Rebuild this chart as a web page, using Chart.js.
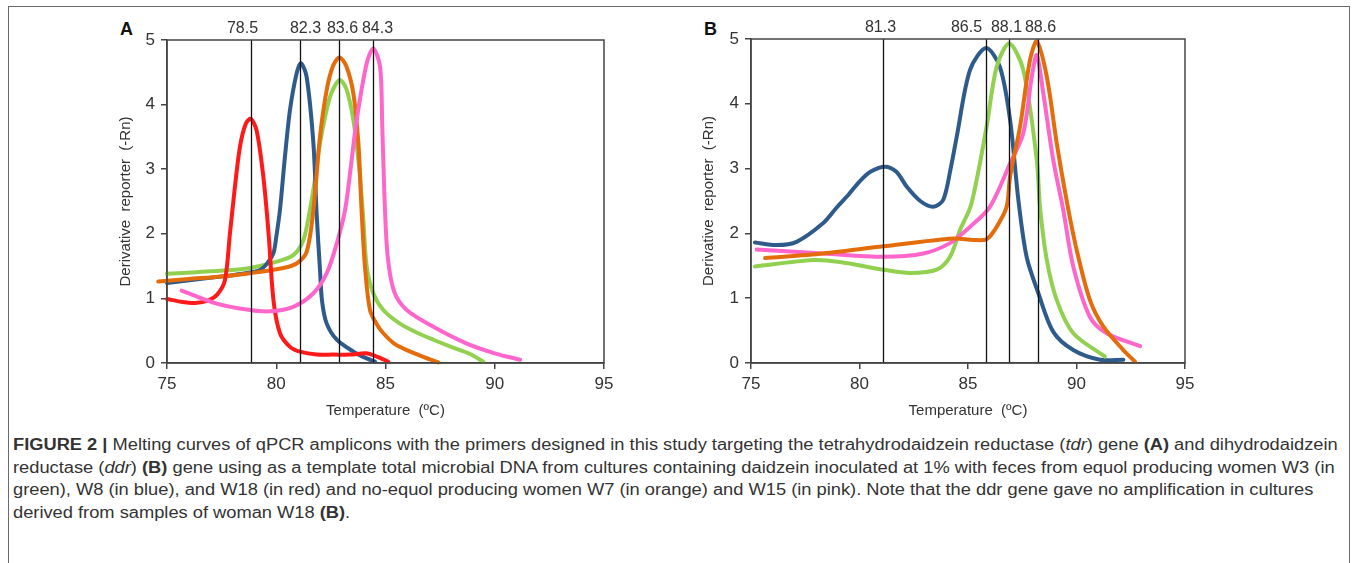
<!DOCTYPE html>
<html>
<head>
<meta charset="utf-8">
<script src="https://cdn.jsdelivr.net/npm/chart.js@4.4.0/dist/chart.umd.min.js"></script>
<style>
  html, body { margin: 0; padding: 0; background: #fff; width: 1358px; height: 563px; overflow: hidden; }
  #frame { position: absolute; left: 8px; top: 6px; width: 1342px; height: 620px; border: 1.5px solid #6a6a6a; box-sizing: border-box; }
  canvas { position: absolute; }
  .panel { position: absolute; font-family: 'Liberation Sans', Arial, sans-serif; font-weight: bold; font-size: 18px; color: #111; }
  #caption { position: absolute; left: 13px; top: 434px; font-family: 'Liberation Sans', Arial, sans-serif; font-size: 16px; color: #333; line-height: 22.5px; white-space: nowrap; transform-origin: 0 0; }
  #caption div { white-space: nowrap; }
</style>
</head>
<body>
<div id="frame"></div>
<div class="panel" style="left:120px; top:19px;">A</div>
<div class="panel" style="left:704px; top:19px;">B</div>
<canvas id="chartA" width="540" height="415" style="left:100px; top:10px;"></canvas>
<canvas id="chartB" width="535" height="416" style="left:690px; top:9px;"></canvas>
<div id="caption">
  <div id="capLine1"><b>FIGURE 2 |</b> Melting curves of qPCR amplicons with the primers designed in this study targeting the tetrahydrodaidzein reductase (<i>tdr</i>) gene <b>(A)</b> and dihydrodaidzein</div>
  <div>reductase (<i>ddr</i>) <b>(B)</b> gene using as a template total microbial DNA from cultures containing daidzein inoculated at 1% with feces from equol producing women W3 (in</div>
  <div>green), W8 (in blue), and W18 (in red) and no-equol producing women W7 (in orange) and W15 (in pink). Note that the ddr gene gave no amplification in cultures</div>
  <div>derived from samples of woman W18 <b>(B)</b>.</div>
</div>
<script>
// ---------- Axis ticks ----------
const xTicks = [75, 80, 85, 90, 95];
const yTicks = [0, 1, 2, 3, 4, 5];

// ---------- Panel A (tdr gene) ----------
const aRedX    = [75, 75.6, 76.3, 76.9, 77.3, 77.65, 77.88, 78.1, 78.34, 78.6, 78.83, 79.1, 79.41, 79.65, 79.87, 80.17, 80.63, 81.09, 81.85, 82.6, 83.4, 84.1, 84.6, 85.13];
const aRedY    = [0.99, 0.95, 0.93, 0.97, 1.06, 1.28, 2.0, 2.7, 3.35, 3.7, 3.78, 3.6, 2.88, 2.0, 0.98, 0.46, 0.25, 0.175, 0.13, 0.13, 0.13, 0.15, 0.1, 0.02];
const aBlueX   = [75, 76.5, 78, 78.8, 79.26, 79.6, 79.87, 80.0, 80.17, 80.4, 80.63, 80.93, 81.13, 81.39, 81.7, 81.85, 82.0, 82.1, 82.31, 82.77, 83.53, 84.0, 84.52];
const aBlueY   = [1.24, 1.3, 1.36, 1.4, 1.44, 1.55, 1.7, 1.95, 2.37, 3.2, 3.92, 4.48, 4.64, 4.43, 3.4, 2.3, 1.45, 0.95, 0.61, 0.36, 0.175, 0.09, 0.02];
const aGreenX  = [75, 76.5, 78, 78.8, 80.02, 80.78, 81.24, 81.54, 81.8, 82.0, 82.46, 82.89, 83.2, 83.53, 83.8, 83.99, 84.14, 84.44, 84.9, 85.66, 86.5, 87.19, 88.0, 88.87, 89.48];
const aGreenY  = [1.38, 1.41, 1.44, 1.47, 1.57, 1.67, 1.9, 2.37, 2.9, 3.4, 4.12, 4.38, 4.25, 3.76, 3.0, 2.2, 1.49, 1.08, 0.82, 0.61, 0.46, 0.36, 0.25, 0.14, 0.02];
const aOrangeX = [74.6, 76, 77.5, 78.8, 80.32, 80.93, 81.39, 81.7, 82.0, 82.31, 82.6, 82.89, 83.2, 83.53, 83.76, 83.9, 84.06, 84.29, 84.6, 84.9, 85.4, 85.97, 86.7, 87.42];
const aOrangeY = [1.26, 1.3, 1.34, 1.39, 1.47, 1.54, 1.72, 2.37, 3.5, 4.23, 4.6, 4.73, 4.6, 4.17, 3.4, 2.4, 1.49, 0.82, 0.6, 0.46, 0.3, 0.2, 0.1, 0.01];
const aPinkX   = [75.67, 77.27, 78.8, 79.71, 80.78, 81.7, 82.31, 82.77, 83.15, 83.4, 83.68, 84.14, 84.44, 84.75, 84.85, 84.95, 85.1, 85.4, 85.97, 87.19, 88.72, 90.0, 91.16];
const aPinkY   = [1.12, 0.92, 0.82, 0.8, 0.87, 1.08, 1.39, 1.85, 2.37, 3.0, 3.76, 4.64, 4.87, 4.59, 3.7, 2.6, 1.65, 1.1, 0.82, 0.56, 0.3, 0.15, 0.05];
const aTmLines  = [78.83, 81.09, 82.89, 84.41];
const aTmLabels = ["78.5", "82.3", "83.6", "84.3"];

// ---------- Panel B (ddr gene) ----------
const bBlueX   = [75.18, 76.18, 77.1, 78.33, 78.95, 79.5, 80.0, 80.5, 81.18, 81.7, 82.18, 82.8, 83.4, 83.86, 84.2, 84.48, 85.09, 85.83, 86.47, 86.94, 87.32, 87.7, 88.24, 88.93, 89.85, 91.08, 92.16];
const bBlueY   = [1.86, 1.82, 1.87, 2.16, 2.4, 2.6, 2.8, 2.95, 3.03, 2.95, 2.72, 2.5, 2.41, 2.52, 3.0, 3.49, 4.52, 4.86, 4.57, 3.75, 2.52, 1.64, 1.08, 0.48, 0.2, 0.05, 0.05];
const bGreenX  = [75.18, 77.87, 79.1, 81.1, 82.33, 83.56, 84.17, 84.63, 85.15, 85.86, 86.32, 86.9, 87.55, 88.17, 88.32, 88.63, 89.09, 89.85, 91.31];
const bGreenY  = [1.49, 1.59, 1.56, 1.44, 1.39, 1.44, 1.64, 2.05, 2.45, 3.65, 4.57, 4.93, 4.52, 3.13, 2.4, 1.59, 0.97, 0.46, 0.1];
const bOrangeX = [75.65, 78.33, 81.1, 84.32, 85.24, 85.86, 86.32, 86.78, 86.94, 87.4, 87.86, 88.17, 88.63, 89.09, 89.55, 90.01, 90.62, 91.24, 92.16, 92.7];
const bOrangeY = [1.62, 1.69, 1.8, 1.92, 1.9, 1.91, 2.1, 2.41, 2.88, 3.65, 4.68, 4.96, 4.42, 3.39, 2.5, 1.74, 0.97, 0.56, 0.2, 0.02];
const bPinkX   = [75.26, 78.33, 81.1, 82.94, 84.17, 85.09, 86.01, 86.94, 87.55, 87.94, 88.17, 88.47, 88.93, 89.39, 89.85, 90.62, 91.39, 92.93];
const bPinkY   = [1.75, 1.69, 1.64, 1.69, 1.85, 2.1, 2.41, 3.08, 3.55, 4.42, 4.75, 4.16, 3.13, 2.36, 1.49, 0.71, 0.46, 0.26];
const bTmLines  = [81.1, 85.84, 86.9, 88.21];
const bTmLabels = ["81.3", "86.5", "88.1", "88.6"];

// ---------- Colours ----------
const C = { red: '#ff1a1a', blue: '#2e5b8c', green: '#92d050', orange: '#e46c0a', pink: '#ff66cc' };

const pts = (xs, ys) => xs.map((x, i) => ({ x, y: ys[i] }));
function ds(xs, ys, color) {
  return { data: pts(xs, ys), borderColor: color, backgroundColor: color, borderWidth: 4,
           showLine: true, pointRadius: 0, tension: 0.3, fill: false,
           borderCapStyle: 'round', borderJoinStyle: 'round',
           clip: { left: 12, right: 5, top: 5, bottom: 5 } };
}

Chart.defaults.font.family = "'Liberation Sans', Arial, sans-serif";
Chart.defaults.color = '#333';

const frameAndLines = {
  id: 'frameAndLines',
  afterDatasetsDraw(chart, args, opts) {
    const { ctx, chartArea: a, scales: { x, y } } = chart;
    ctx.save();
    ctx.strokeStyle = '#111';
    ctx.lineWidth = 1.3;
    opts.lines.forEach((v, i) => {
      const px = Math.round(x.getPixelForValue(v)) + 0.5;
      ctx.beginPath();
      ctx.moveTo(px, y.getPixelForValue(0));
      ctx.lineTo(px, y.getPixelForValue(5));
      ctx.stroke();
      ctx.fillStyle = '#333';
      ctx.font = "16px 'Liberation Sans', Arial, sans-serif";
      ctx.textAlign = 'center';
      ctx.textBaseline = 'middle';
      ctx.fillText(opts.labels[i], px + opts.offsets[i], a.top - 11);
    });
    ctx.strokeStyle = '#444';
    ctx.lineWidth = 1.5;
    ctx.strokeRect(a.left, a.top, a.right - a.left, a.bottom - a.top);
    ctx.restore();
  }
};

function makeChart(id, datasets, lines, labels, offsets, yWidth, rightPad, yTitlePad) {
  return new Chart(document.getElementById(id), {
    type: 'scatter',
    data: { datasets },
    plugins: [frameAndLines],
    options: {
      responsive: false,
      animation: false,
      devicePixelRatio: 1,
      layout: { padding: { top: 30, right: rightPad, left: 0, bottom: 0 } },
      plugins: {
        legend: { display: false },
        tooltip: { enabled: false },
        frameAndLines: { lines, labels, offsets }
      },
      scales: {
        x: {
          type: 'linear', min: 75, max: 95,
          afterBuildTicks: s => { s.ticks = xTicks.map(v => ({ value: v })); },
          afterFit: s => { s.height = 62; },
          grid: { drawOnChartArea: false, drawTicks: true, tickLength: 6, color: '#444', lineWidth: 1.5 },
          border: { color: '#444', width: 1.5 },
          ticks: { font: { size: 17 }, padding: 5, color: '#333' },
          title: { display: true, text: 'Temperature  (ºC)', font: { size: 15 }, color: '#333', padding: { top: 0, bottom: 5 } }
        },
        y: {
          type: 'linear', min: 0, max: 5,
          afterBuildTicks: s => { s.ticks = yTicks.map(v => ({ value: v })); },
          afterFit: s => { s.width = yWidth; },
          grid: { drawOnChartArea: false, drawTicks: true, tickLength: 6, color: '#444', lineWidth: 1.5 },
          border: { color: '#444', width: 1.5 },
          ticks: { font: { size: 17 }, padding: 6, color: '#333' },
          title: { display: true, text: 'Derivative  reporter  (-Rn)', font: { size: 15 }, color: '#333', padding: { top: yTitlePad, bottom: 0 } }
        }
      }
    }
  });
}

makeChart('chartA', [
  ds(aPinkX, aPinkY, C.pink),
  ds(aRedX, aRedY, C.red),
  ds(aOrangeX, aOrangeY, C.orange),
  ds(aBlueX, aBlueY, C.blue),
  ds(aGreenX, aGreenY, C.green)
], aTmLines, aTmLabels, [-9, 5, 3, 4], 67, 36, 17);

makeChart('chartB', [
  ds(bOrangeX, bOrangeY, C.orange),
  ds(bPinkX, bPinkY, C.pink),
  ds(bGreenX, bGreenY, C.green),
  ds(bBlueX, bBlueY, C.blue)
], bTmLines, bTmLabels, [-3, -20, -3, 2], 61, 40, 10);

const cap = document.getElementById('caption');
const w = document.getElementById('capLine1').scrollWidth;
cap.style.transform = 'scaleX(' + (1325 / w) + ')';
</script>
</body>
</html>
